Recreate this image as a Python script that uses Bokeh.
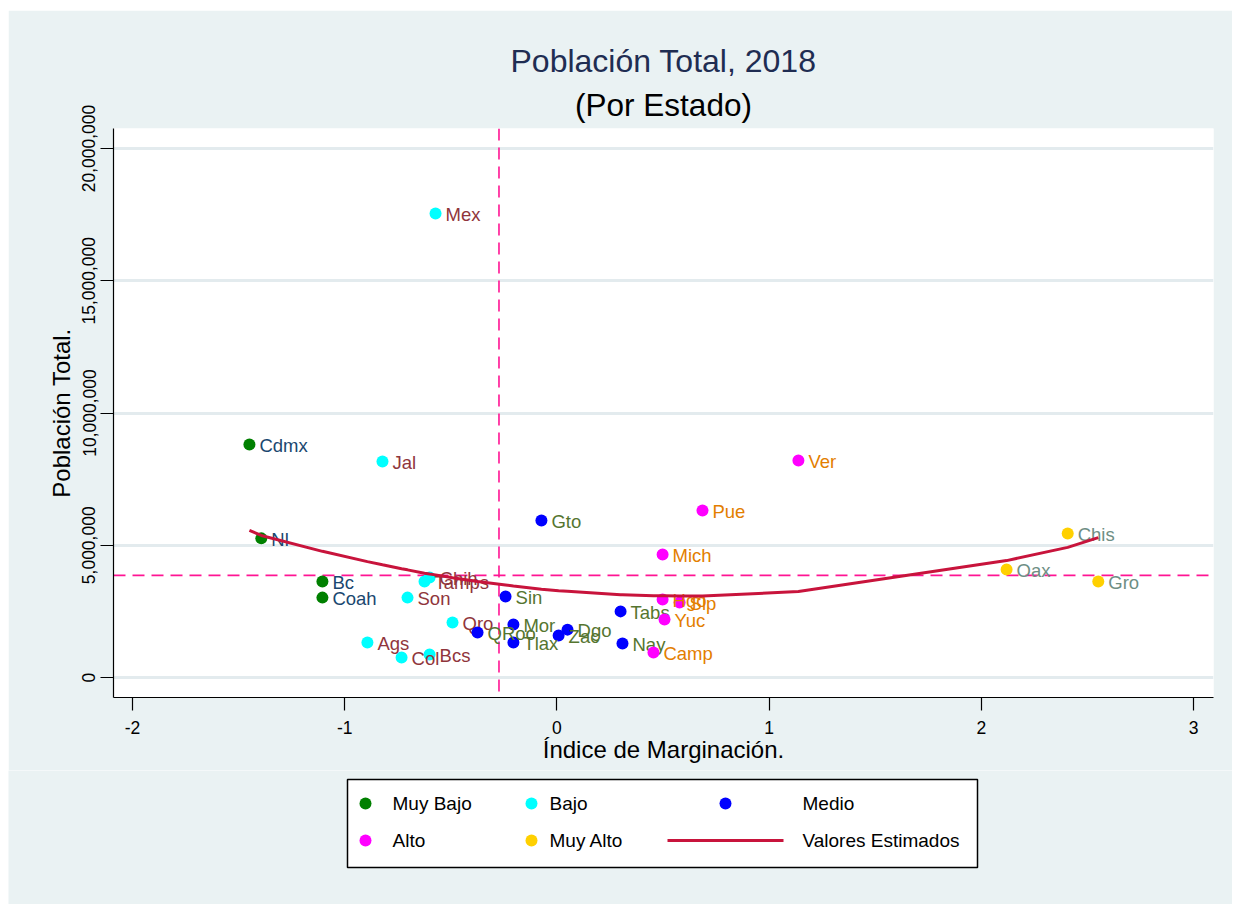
import numpy as np
from bokeh.plotting import figure
from bokeh.models import Range1d, FixedTicker, Span, Title, ColumnDataSource
from bokeh.layouts import column
from bokeh.embed import file_html
from bokeh.resources import INLINE
from bokeh.core.properties import value

# ---------------- data ----------------
estados = ["Cdmx", "Nl", "Bc", "Coah",
           "Mex", "Jal", "Chih", "Tamps", "Son", "Qro", "Ags", "Col", "Bcs",
           "Sin", "Gto", "Mor", "QRoo", "Tlax", "Zac", "Dgo", "Tabs", "Nay",
           "Mich", "Hgo", "Slp", "Yuc", "Camp", "Pue", "Ver",
           "Oax", "Chis", "Gro"]
indice = [-1.449, -1.393, -1.105, -1.105,
          -0.572, -0.822, -0.600, -0.624, -0.704, -0.492, -0.893, -0.732, -0.600,
          -0.242, -0.073, -0.205, -0.374, -0.205, 0.008, 0.050, 0.300, 0.309,
          0.498, 0.498, 0.578, 0.507, 0.455, 0.686, 1.138,
          2.119, 2.407, 2.551]
poblacion = [8810000, 5260000, 3630000, 3020000,
             17540000, 8170000, 3780000, 3630000, 3020000, 2080000, 1320000, 756000, 870000,
             3060000, 5940000, 2000000, 1700000, 1320000, 1590000, 1810000, 2500000, 1290000,
             4650000, 2950000, 2840000, 2190000, 945000, 6310000, 8200000,
             4080000, 5440000, 3630000]
grado = ["Muy Bajo"] * 4 + ["Bajo"] * 9 + ["Medio"] * 9 + ["Alto"] * 7 + ["Muy Alto"] * 3
valores_estimados = [5560000, 5370000, 4770000, 4770000,
                     3880000, 4260000, 3910000, 3940000, 4070000, 3770000, 4380000, 4110000, 3910000,
                     3500000, 3340000, 3460000, 3630000, 3460000, 3280000, 3260000, 3130000, 3130000,
                     3090000, 3090000, 3080000, 3090000, 3090000, 3080000, 3250000,
                     4420000, 4920000, 5290000]

categorias = ["Muy Bajo", "Bajo", "Medio", "Alto", "Muy Alto"]
colores_marcador = ["#008000", "#00FFFF", "#0000FF", "#FF00FF", "#FFD000"]
colores_etiqueta = ["#1A476F", "#90353B", "#55752F", "#E37E00", "#6E8E84"]
x_ticks = [-2, -1, 0, 1, 2, 3]
y_ticks = [0, 5000000, 10000000, 15000000, 20000000]
y_tick_labels = ["0", "5,000,000", "10,000,000", "15,000,000", "20,000,000"]
ref_x = -0.273
ref_y = 3860000

titulo = "Población Total, 2018"
subtitulo = "(Por Estado)"
etiqueta_x = "Índice de Marginación."
etiqueta_y = "Población Total."
etiqueta_linea = "Valores Estimados"

# ---------------- style ----------------
FONT = "Liberation Sans"
BG = "#EAF2F3"
LINE = "#C8143C"
REF = "#FF1493"

p = figure(width=1224, height=760,
           x_range=Range1d(-2.0895, 3.094), y_range=Range1d(-756000, 20756000),
           output_backend="svg", toolbar_location=None,
           min_border_left=105, min_border_right=19, min_border_top=118, min_border_bottom=73,
           background_fill_color="white", border_fill_color=BG, outline_line_color=None)
p.frame_align = False

p.title.text = titulo
p.title.align = "center"
p.title.text_font = FONT
p.title.text_font_size = "32px"
p.title.text_font_style = "normal"
p.title.text_color = "#1F2D52"
p.title.standoff = 2
p.add_layout(Title(text=subtitulo, align="center", text_font=FONT, text_font_size="31.5px",
                   text_font_style="normal", text_color="black", standoff=11), "above")

# grid
p.xgrid.visible = False
p.ygrid.ticker = FixedTicker(ticks=y_ticks)
p.ygrid.grid_line_color = "#E3EBEE"
p.ygrid.grid_line_width = 3

# axes
for ax in (p.xaxis, p.yaxis):
    ax.axis_line_color = "black"
    ax.axis_line_width = 1.2
    ax.major_tick_line_color = "black"
    ax.major_tick_line_width = 1.2
    ax.major_tick_out = 13
    ax.major_tick_in = 0
    ax.minor_tick_line_color = None
    ax.major_label_text_font = FONT
    ax.major_label_text_font_size = "17.5px"
    ax.major_label_text_color = "black"
    ax.axis_label_text_font = FONT
    ax.axis_label_text_font_size = "24px"
    ax.axis_label_text_font_style = "normal"
    ax.axis_label_text_color = "black"

p.xaxis.ticker = FixedTicker(ticks=x_ticks)
p.xaxis.major_label_overrides = {t: str(t) for t in x_ticks}
p.xaxis.axis_label = etiqueta_x
p.xaxis.major_label_standoff = 10
p.xaxis.axis_label_standoff = -1

p.yaxis.ticker = FixedTicker(ticks=y_ticks)
p.yaxis.major_label_overrides = dict(zip(y_ticks, y_tick_labels))
p.yaxis.major_label_orientation = "vertical"
p.yaxis.axis_label = etiqueta_y
p.yaxis.major_label_standoff = 5
p.yaxis.axis_label_standoff = 5

# reference lines
p.add_layout(Span(location=ref_x, dimension="height", line_color=REF, line_width=1.6,
                  line_dash="12 7", level="underlay"))
p.add_layout(Span(location=ref_y, dimension="width", line_color=REF, line_width=1.6,
                  line_dash="12 7", level="underlay"))

# scatter + labels per category
for cat, mc, lc in zip(categorias, colores_marcador, colores_etiqueta):
    idx = [i for i, g in enumerate(grado) if g == cat]
    src = ColumnDataSource(dict(x=[indice[i] for i in idx],
                                y=[poblacion[i] for i in idx],
                                name=[estados[i] for i in idx]))
    p.scatter(x="x", y="y", source=src, size=12, fill_color=mc, line_color=None)
    p.text(x="x", y="y", text="name", source=src, x_offset=10, y_offset=1,
           text_font=value(FONT), text_font_size="18.5px", text_color=lc,
           text_baseline="middle", text_align="left")

# fitted line
orden = np.argsort(indice, kind="stable")
p.line(x=[indice[i] for i in orden], y=[valores_estimados[i] for i in orden],
       line_color=LINE, line_width=3)

# ---------------- legend panel ----------------
# frame spans the whole panel: page x 8..1232 and page y 770..904
leg = figure(width=1224, height=134, x_range=Range1d(8, 1232), y_range=Range1d(904, 770),
             output_backend="svg", toolbar_location=None,
             x_axis_location=None, y_axis_location=None,
             min_border_left=0, min_border_right=0, min_border_top=0, min_border_bottom=0,
             outline_line_color=None, background_fill_color=BG, border_fill_color=BG)
leg.frame_align = False
leg.grid.visible = False
leg.quad(left=347, right=977, top=779, bottom=867, fill_color="white",
         line_color="black", line_width=1.5)

mk_x = [365, 531, 725, 365, 531]
mk_y = [803, 803, 803, 840, 840]
tx_x = [392, 549, 802, 392, 549]
leg.scatter(x=mk_x, y=mk_y, size=12, fill_color=colores_marcador, line_color=None)
leg.text(x=tx_x, y=mk_y, text=categorias, text_font=value(FONT), text_font_size="19px",
         text_color="black", text_baseline="middle", text_align="left")
leg.segment(x0=[667], y0=[840], x1=[783], y1=[840], line_color=LINE, line_width=3)
leg.text(x=[802], y=[840], text=[etiqueta_linea], text_font=value(FONT), text_font_size="19px",
         text_color="black", text_baseline="middle", text_align="left")

layout = column(p, leg, spacing=0, margin=(10, 0, 0, 8))
open("out.html", "w").write(file_html(layout, INLINE))
